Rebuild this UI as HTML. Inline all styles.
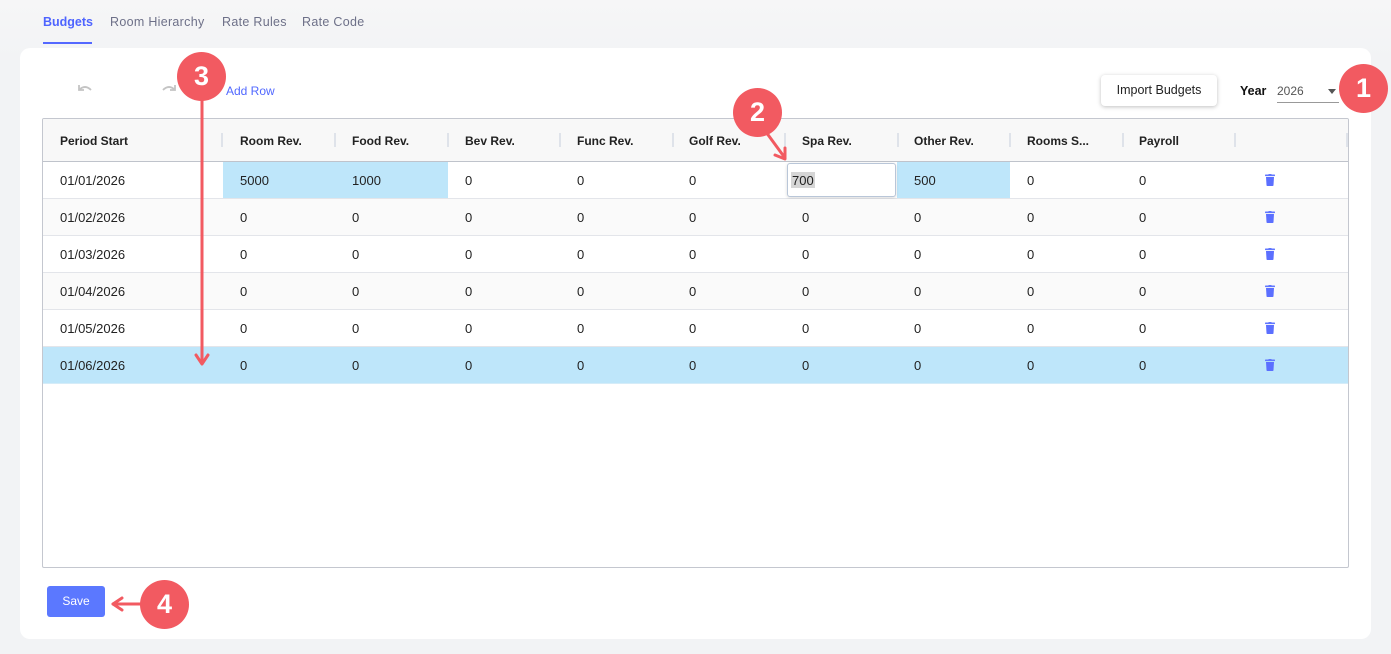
<!DOCTYPE html>
<html><head><meta charset="utf-8">
<style>
*{box-sizing:border-box;margin:0;padding:0}
html,body{width:1391px;height:654px;overflow:hidden}
body{background:linear-gradient(#f6f6f7 0px,#f2f3f5 60px);font-family:"Liberation Sans",sans-serif;position:relative;color:#222}
.abs{position:absolute}
.tab{position:absolute;top:15px;font-size:12.5px;color:#6d7088;letter-spacing:0.3px}
.card{position:absolute;left:20px;top:48px;width:1351px;height:591px;background:#fff;border-radius:10px}
.tbl{position:absolute;left:42px;top:118px;width:1307px;height:450px;border:1px solid #c4c7cf;border-radius:2px;overflow:hidden;background:#fff}
.hdr{position:absolute;left:0;top:0;width:100%;height:43px;background:#f8f8f8;border-bottom:1px solid #bfc3cb}
.hc{position:absolute;top:15px;font-size:12px;font-weight:bold;color:#222}
.sep{position:absolute;top:14px;width:2px;height:14px;background:#dfe3ea}
.row{position:absolute;left:0;width:100%;height:37px;border-bottom:1px solid #e3e5ea}
.c{position:absolute;top:11px;font-size:13px;color:#222}
.trash{position:absolute;left:1222px;top:12px;width:10px;height:12px}
.circle{position:absolute;width:49px;height:49px;border-radius:50%;background:#f25a61;color:#fff;font-weight:bold;font-size:27px;text-align:center;line-height:49px}
</style></head><body>
<div class="tab" style="left:43px;color:#4e64ff;font-weight:bold;letter-spacing:0px">Budgets</div>
<div class="abs" style="left:43px;top:42px;width:49px;height:2px;background:#5468ff"></div>
<div class="tab" style="left:110px;">Room Hierarchy</div>
<div class="tab" style="left:222px;">Rate Rules</div>
<div class="tab" style="left:302px;">Rate Code</div>

<div class="card"></div>

<!-- undo / redo -->
<svg class="abs" style="left:76px;top:83px" width="18" height="12" viewBox="0 0 18 12"><path d="M3 2 L3 7 L8 7" fill="none" stroke="#c4c4c4" stroke-width="1.8"/><path d="M3 7 Q9 1 15 7" fill="none" stroke="#c4c4c4" stroke-width="1.8"/></svg>
<svg class="abs" style="left:160px;top:83px" width="18" height="12" viewBox="0 0 18 12"><path d="M15 2 L15 7 L10 7" fill="none" stroke="#c4c4c4" stroke-width="1.8"/><path d="M15 7 Q9 1 3 7" fill="none" stroke="#c4c4c4" stroke-width="1.8"/></svg>
<div class="abs" style="left:226px;top:84px;font-size:12px;color:#5168ff">Add Row</div>

<div class="abs" style="left:1101px;top:75px;width:116px;height:31px;background:#fff;border-radius:4px;box-shadow:0 1px 4px rgba(0,0,0,0.25);font-size:12.5px;color:#222;text-align:center;line-height:31px">Import Budgets</div>
<div class="abs" style="left:1240px;top:84px;font-size:12.5px;font-weight:bold;color:#111">Year</div>
<div class="abs" style="left:1277px;top:84px;font-size:12px;color:#555">2026</div>
<div class="abs" style="left:1328px;top:89px;width:0;height:0;border-left:4px solid transparent;border-right:4px solid transparent;border-top:5px solid #555"></div>
<div class="abs" style="left:1277px;top:102px;width:62px;height:1px;background:#999"></div>

<div class="tbl">
  <div class="hdr">
    <div class="hc" style="left:17px">Period Start</div>
    <div class="hc" style="left:197px">Room Rev.</div>
    <div class="hc" style="left:309px">Food Rev.</div>
    <div class="hc" style="left:422px">Bev Rev.</div>
    <div class="hc" style="left:534px">Func Rev.</div>
    <div class="hc" style="left:646px">Golf Rev.</div>
    <div class="hc" style="left:759px">Spa Rev.</div>
    <div class="hc" style="left:871px">Other Rev.</div>
    <div class="hc" style="left:984px">Rooms S...</div>
    <div class="hc" style="left:1096px">Payroll</div>
    <div class="sep" style="left:178px"></div>
    <div class="sep" style="left:291px"></div>
    <div class="sep" style="left:404px"></div>
    <div class="sep" style="left:516px"></div>
    <div class="sep" style="left:629px"></div>
    <div class="sep" style="left:741px"></div>
    <div class="sep" style="left:854px"></div>
    <div class="sep" style="left:966px"></div>
    <div class="sep" style="left:1079px"></div>
    <div class="sep" style="left:1191px"></div>
    <div class="sep" style="left:1303px"></div>
  </div>

  <!-- row 1 -->
  <div class="row" style="top:43px;background:#fff">
    <div class="abs" style="left:180px;top:0;width:225px;height:36px;background:#bee6fa"></div>
    <div class="abs" style="left:854px;top:0;width:113px;height:36px;background:#bee6fa"></div>
    <div class="c" style="left:17px">01/01/2026</div>
    <div class="c" style="left:197px">5000</div>
    <div class="c" style="left:309px">1000</div>
    <div class="c" style="left:422px">0</div>
    <div class="c" style="left:534px">0</div>
    <div class="c" style="left:646px">0</div>
    <div class="abs" style="left:744px;top:1px;width:109px;height:34px;border:1px solid #b9c6d8;border-radius:3px;background:#fff;box-shadow:0 1px 3px rgba(0,0,0,0.15)"></div>
    <div class="abs" style="left:748px;top:10px;width:24px;height:16px;background:#d6d6d6"></div>
    <div class="c" style="left:749px">700</div>
    <div class="c" style="left:871px">500</div>
    <div class="c" style="left:984px">0</div>
    <div class="c" style="left:1096px">0</div>
    <svg class="trash" viewBox="0 0 10 12"><rect x="0" y="0.5" width="10" height="1.6" rx="0.6" fill="#6077ff"/><rect x="3.5" y="0" width="3" height="1" fill="#6077ff"/><path d="M1 3 H9 L8.5 11.3 Q8.4 12 7.7 12 H2.3 Q1.6 12 1.5 11.3 Z" fill="#5b6fff"/></svg>
  </div>
  <div class="row" style="top:80px;background:#fafafa">
    <div class="c" style="left:17px">01/02/2026</div>
    <div class="c" style="left:197px">0</div><div class="c" style="left:309px">0</div><div class="c" style="left:422px">0</div><div class="c" style="left:534px">0</div><div class="c" style="left:646px">0</div><div class="c" style="left:759px">0</div><div class="c" style="left:871px">0</div><div class="c" style="left:984px">0</div><div class="c" style="left:1096px">0</div>
    <svg class="trash" viewBox="0 0 10 12"><rect x="0" y="0.5" width="10" height="1.6" rx="0.6" fill="#6077ff"/><rect x="3.5" y="0" width="3" height="1" fill="#6077ff"/><path d="M1 3 H9 L8.5 11.3 Q8.4 12 7.7 12 H2.3 Q1.6 12 1.5 11.3 Z" fill="#5b6fff"/></svg>
  </div>
  <div class="row" style="top:117px;background:#fff">
    <div class="c" style="left:17px">01/03/2026</div>
    <div class="c" style="left:197px">0</div><div class="c" style="left:309px">0</div><div class="c" style="left:422px">0</div><div class="c" style="left:534px">0</div><div class="c" style="left:646px">0</div><div class="c" style="left:759px">0</div><div class="c" style="left:871px">0</div><div class="c" style="left:984px">0</div><div class="c" style="left:1096px">0</div>
    <svg class="trash" viewBox="0 0 10 12"><rect x="0" y="0.5" width="10" height="1.6" rx="0.6" fill="#6077ff"/><rect x="3.5" y="0" width="3" height="1" fill="#6077ff"/><path d="M1 3 H9 L8.5 11.3 Q8.4 12 7.7 12 H2.3 Q1.6 12 1.5 11.3 Z" fill="#5b6fff"/></svg>
  </div>
  <div class="row" style="top:154px;background:#fafafa">
    <div class="c" style="left:17px">01/04/2026</div>
    <div class="c" style="left:197px">0</div><div class="c" style="left:309px">0</div><div class="c" style="left:422px">0</div><div class="c" style="left:534px">0</div><div class="c" style="left:646px">0</div><div class="c" style="left:759px">0</div><div class="c" style="left:871px">0</div><div class="c" style="left:984px">0</div><div class="c" style="left:1096px">0</div>
    <svg class="trash" viewBox="0 0 10 12"><rect x="0" y="0.5" width="10" height="1.6" rx="0.6" fill="#6077ff"/><rect x="3.5" y="0" width="3" height="1" fill="#6077ff"/><path d="M1 3 H9 L8.5 11.3 Q8.4 12 7.7 12 H2.3 Q1.6 12 1.5 11.3 Z" fill="#5b6fff"/></svg>
  </div>
  <div class="row" style="top:191px;background:#fff">
    <div class="c" style="left:17px">01/05/2026</div>
    <div class="c" style="left:197px">0</div><div class="c" style="left:309px">0</div><div class="c" style="left:422px">0</div><div class="c" style="left:534px">0</div><div class="c" style="left:646px">0</div><div class="c" style="left:759px">0</div><div class="c" style="left:871px">0</div><div class="c" style="left:984px">0</div><div class="c" style="left:1096px">0</div>
    <svg class="trash" viewBox="0 0 10 12"><rect x="0" y="0.5" width="10" height="1.6" rx="0.6" fill="#6077ff"/><rect x="3.5" y="0" width="3" height="1" fill="#6077ff"/><path d="M1 3 H9 L8.5 11.3 Q8.4 12 7.7 12 H2.3 Q1.6 12 1.5 11.3 Z" fill="#5b6fff"/></svg>
  </div>
  <div class="row" style="top:228px;background:#bee6fa;border-bottom-color:#d5ecf8">
    <div class="c" style="left:17px">01/06/2026</div>
    <div class="c" style="left:197px">0</div><div class="c" style="left:309px">0</div><div class="c" style="left:422px">0</div><div class="c" style="left:534px">0</div><div class="c" style="left:646px">0</div><div class="c" style="left:759px">0</div><div class="c" style="left:871px">0</div><div class="c" style="left:984px">0</div><div class="c" style="left:1096px">0</div>
    <svg class="trash" viewBox="0 0 10 12"><rect x="0" y="0.5" width="10" height="1.6" rx="0.6" fill="#6077ff"/><rect x="3.5" y="0" width="3" height="1" fill="#6077ff"/><path d="M1 3 H9 L8.5 11.3 Q8.4 12 7.7 12 H2.3 Q1.6 12 1.5 11.3 Z" fill="#5b6fff"/></svg>
  </div>
</div>

<div class="abs" style="left:47px;top:586px;width:58px;height:31px;background:#5b78ff;border-radius:3px;color:#fff;font-size:12px;text-align:center;line-height:31px">Save</div>

<!-- annotations -->
<svg class="abs" style="left:0;top:0" width="1391" height="654">
  <g stroke="#f25a61" stroke-width="3" fill="none" stroke-linecap="round" stroke-linejoin="round">
    <line x1="202" y1="98" x2="202" y2="363"/>
    <polyline points="196,355 202,364 208,355"/>
    <line x1="766" y1="132" x2="785" y2="158"/>
    <polyline points="775,155 785,159 785,148"/>
    <line x1="142" y1="604" x2="113" y2="604"/>
    <polyline points="122,598 113,604 122,610"/>
  </g>
</svg>
<div class="circle" style="left:1339px;top:64px">1</div>
<div class="circle" style="left:733px;top:88px">2</div>
<div class="circle" style="left:177px;top:52px">3</div>
<div class="circle" style="left:140px;top:580px">4</div>
</body></html>
